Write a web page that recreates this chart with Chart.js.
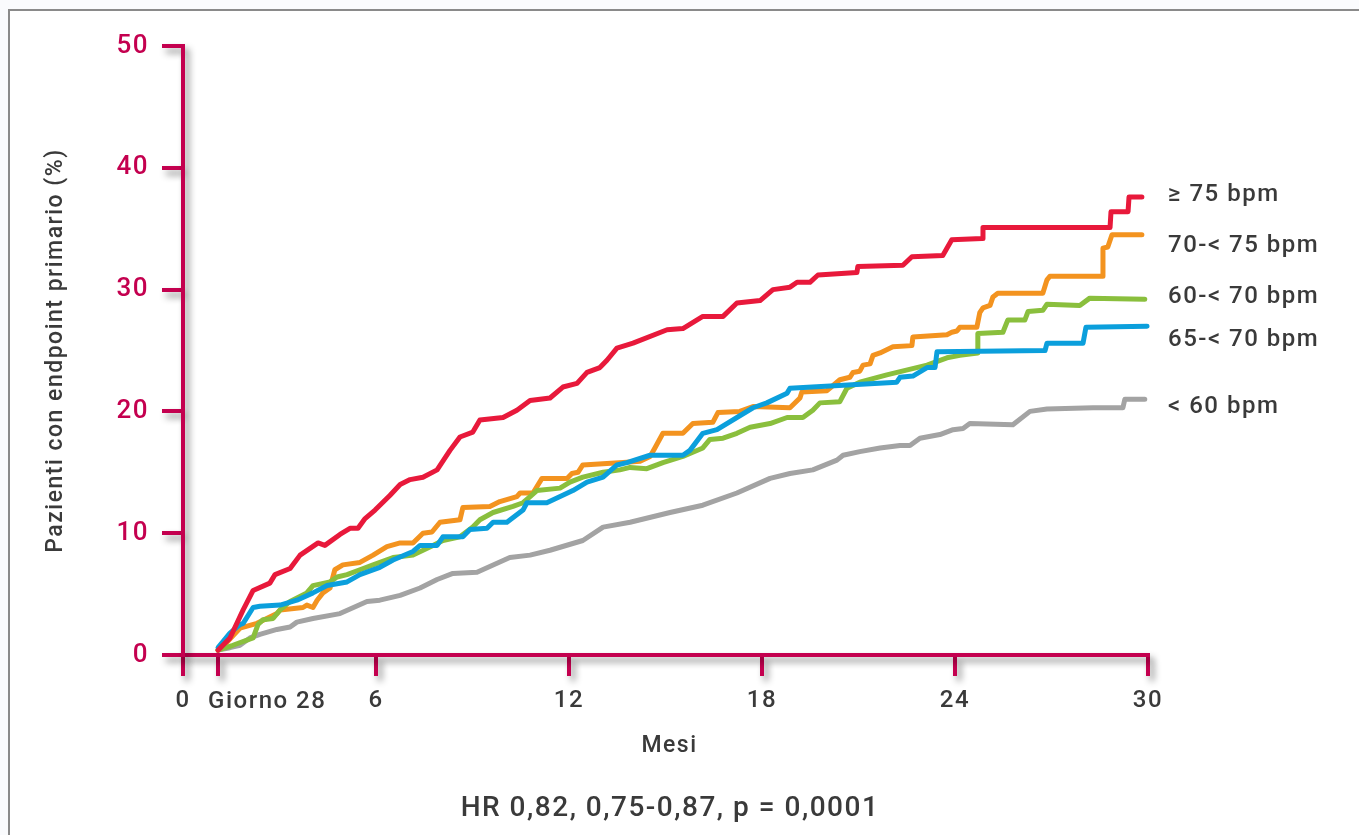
<!DOCTYPE html>
<html><head><meta charset="utf-8">
<script src="https://cdn.jsdelivr.net/npm/chart.js@4.4.1/dist/chart.umd.min.js"></script>
<style>
html,body{margin:0;padding:0;background:#fff;}
#wrap{position:relative;width:1359px;height:835px;overflow:hidden;background:#fafbfd;}
#frame{position:absolute;left:8px;top:9px;width:1400px;height:900px;border-left:2px solid #8a8a8a;border-top:2px solid #8a8a8a;background:#fff;}
canvas{position:absolute;left:0;top:0;}
</style></head><body>
<div id="wrap"><div id="frame"></div><canvas id="c" width="1359" height="835"></canvas></div>
<script>
// ---- Data (months, % patients with primary endpoint) ----
const seriesNames = ['≥ 75 bpm', '70-< 75 bpm', '60-< 70 bpm', '65-< 70 bpm', '< 60 bpm'];
const seriesColors = ['#e8193b', '#f3931f', '#8abf3d', '#0b9fdc', '#a3a3a3'];

const monthsHR75 = [1.09,1.46,1.87,2.18,2.70,2.86,3.33,3.64,4.20,4.41,4.88,5.19,5.44,5.66,5.97,6.43,6.75,7.06,7.46,7.90,8.30,8.61,9.01,9.23,9.95,10.38,10.79,11.41,11.81,12.25,12.56,12.96,13.18,13.49,13.99,15.05,15.54,16.16,16.79,17.22,17.94,18.34,18.87,19.09,19.49,19.74,20.95,20.98,22.38,22.66,23.62,23.90,24.84,24.87,28.82,28.85,29.38,29.41,29.81];
const valuesHR75 = [0.4,1.4,3.7,5.3,5.9,6.6,7.1,8.2,9.2,9.0,9.9,10.4,10.4,11.2,11.9,13.1,14.0,14.4,14.6,15.2,16.8,17.9,18.3,19.3,19.5,20.1,20.9,21.1,22.0,22.3,23.2,23.6,24.2,25.2,25.6,26.7,26.8,27.8,27.8,28.9,29.1,30.0,30.2,30.6,30.6,31.2,31.4,31.9,32.0,32.7,32.8,34.1,34.2,35.1,35.1,36.4,36.4,37.6,37.6];

const monthsHR70 = [1.09,1.24,1.77,2.30,2.92,3.02,3.73,3.85,4.04,4.17,4.35,4.57,4.72,4.97,5.50,5.91,6.34,6.75,7.15,7.46,7.74,7.99,8.61,8.70,9.54,9.85,10.38,10.48,10.88,11.16,11.94,12.09,12.28,12.43,13.68,14.21,14.52,14.67,14.92,15.54,15.85,16.47,16.63,17.31,17.72,18.87,19.18,19.24,20.02,20.42,20.73,20.83,21.04,21.14,21.36,21.45,21.67,22.07,22.66,22.69,23.75,23.90,24.06,24.15,24.68,24.77,24.87,25.09,25.18,25.33,26.73,26.86,26.95,28.57,28.60,28.75,28.88,29.81];
const valuesHR70 = [0.4,0.7,2.2,2.6,3.4,3.7,3.9,4.1,3.9,4.5,5.1,5.5,7.0,7.4,7.6,8.2,8.9,9.2,9.2,10.0,10.1,10.9,11.1,12.1,12.2,12.6,13.0,13.3,13.3,14.5,14.5,14.9,15.0,15.6,15.8,15.9,16.3,17.0,18.2,18.2,19.0,19.1,19.9,20.0,20.4,20.3,21.1,21.6,21.7,22.6,22.8,23.2,23.3,23.8,23.9,24.6,24.8,25.3,25.4,26.1,26.3,26.5,26.6,26.9,26.9,28.1,28.5,28.7,29.4,29.7,29.7,30.8,31.1,31.1,33.4,33.5,34.5,34.5];

const monthsHR60 = [1.09,1.55,2.18,2.33,2.49,2.80,3.02,3.33,3.85,4.04,4.57,4.79,5.10,5.50,5.91,6.53,7.15,7.77,8.08,8.61,9.01,9.23,9.64,10.26,10.57,10.79,11.00,11.72,12.03,12.43,13.06,13.58,13.90,14.42,14.92,15.54,16.16,16.38,16.79,17.22,17.63,18.25,18.78,19.27,19.58,19.80,20.42,20.64,21.04,21.88,23.13,23.75,24.15,24.71,24.71,25.49,25.64,26.17,26.27,26.73,26.86,27.88,28.19,29.90];
const valuesHR60 = [0.4,0.8,1.4,2.5,2.9,3.0,3.7,4.4,5.1,5.7,6.0,6.4,6.6,7.0,7.4,8.0,8.2,9.0,9.4,9.7,10.5,11.1,11.7,12.2,12.5,13.0,13.5,13.7,14.2,14.6,15.0,15.2,15.4,15.3,15.8,16.3,17.0,17.7,17.8,18.2,18.7,19.0,19.5,19.5,20.1,20.7,20.8,21.9,22.4,23.0,23.8,24.4,24.6,24.8,26.4,26.5,27.5,27.5,28.2,28.3,28.8,28.7,29.3,29.2];

const monthsHR65 = [1.09,1.46,1.77,1.87,2.18,2.39,3.02,3.54,4.04,4.48,5.10,5.50,6.12,6.53,7.15,7.37,7.90,8.08,8.70,8.92,9.45,9.64,10.07,10.57,10.69,11.31,12.12,12.56,13.06,13.49,13.80,14.52,15.54,15.76,16.16,16.60,17.72,18.15,18.78,18.87,22.19,22.29,22.69,23.13,23.38,23.44,26.80,26.86,27.98,28.07,29.97];
const valuesHR65 = [0.6,1.8,2.5,2.6,3.9,4.0,4.1,4.5,5.1,5.7,6.0,6.6,7.2,7.8,8.5,9.0,9.0,9.7,9.7,10.3,10.4,10.9,10.9,11.9,12.5,12.5,13.5,14.2,14.6,15.6,15.8,16.4,16.4,16.8,18.2,18.5,20.3,20.7,21.5,21.9,22.4,22.8,22.9,23.6,23.6,24.9,25.0,25.6,25.6,26.9,27.0];

const monthsHRlt60 = [1.09,1.46,1.77,2.08,2.39,2.92,3.33,3.54,4.04,4.88,5.72,6.12,6.75,7.37,7.90,8.39,9.14,10.16,10.79,11.41,12.43,13.06,13.90,15.14,16.16,17.22,18.25,18.87,19.58,20.33,20.52,21.04,21.67,22.29,22.60,22.91,23.53,23.94,24.25,24.46,25.80,26.33,26.86,28.29,29.22,29.28,29.90];
const valuesHRlt60 = [0.4,0.6,0.8,1.4,1.7,2.1,2.3,2.7,3.0,3.4,4.4,4.5,4.9,5.5,6.2,6.7,6.8,8.0,8.2,8.6,9.4,10.5,10.9,11.7,12.3,13.3,14.5,14.9,15.2,16.0,16.4,16.7,17.0,17.2,17.2,17.8,18.1,18.5,18.6,19.0,18.9,20.0,20.2,20.3,20.3,21.0,21.0];

const xTickValues = [0, 1.09, 6, 12, 18, 24, 30];
const xTickLabels = ['0', 'Giorno 28', '6', '12', '18', '24', '30'];
const yTickStep = 10;
const yMax = 50;
const labelValues = [37.8, 33.6, 29.4, 25.9, 20.4];   // where series names sit on the y scale

const xTitle = 'Mesi';
const yTitle = 'Pazienti con endpoint primario (%)';
const footer = 'HR 0,82, 0,75-0,87, p = 0,0001';

// ---- Chart ----
const CRIMSON = '#c4004f';
const TEXT = '#3a3a3a';
const FONT = 'Roboto, "DejaVu Sans", sans-serif';
const LS = '1.5px';

const allMonths = [monthsHR75, monthsHR70, monthsHR60, monthsHR65, monthsHRlt60];
const allValues = [valuesHR75, valuesHR70, valuesHR60, valuesHR65, valuesHRlt60];
const drawOrder = [1, 4, 3, 2, 5];

const datasets = seriesNames.map((name, i) => ({
  label: name,
  data: allMonths[i].map((m, j) => ({x: m, y: allValues[i][j]})),
  borderColor: seriesColors[i],
  borderWidth: 5,
  pointRadius: 0,
  tension: 0,
  fill: false,
  borderJoinStyle: 'round',
  borderCapStyle: 'round',
  order: drawOrder[i],
  clip: false
}));

const axisPlugin = {
  id: 'axisShadow',
  beforeDraw(chart) {
    const c = chart.ctx;
    c.letterSpacing = LS;
    c.save();
    c.shadowColor = 'rgba(0,0,0,0.45)';
    c.shadowBlur = 7;
    c.shadowOffsetX = 4;
    c.shadowOffsetY = 5;
  },
  beforeDatasetsDraw(chart) {
    chart.ctx.restore();
  },
  afterDraw(chart) {
    const c = chart.ctx, a = chart.chartArea, xs = chart.scales.x, ys = chart.scales.y;
    c.save();
    c.letterSpacing = LS;
    c.fillStyle = TEXT;
    c.textBaseline = 'middle';
    // Giorno 28 label
    c.font = '500 24px ' + FONT;
    c.textAlign = 'left';
    c.fillText(xTickLabels[1], xs.getPixelForValue(xTickValues[1]) - 10, 702);
    // x title
    c.textAlign = 'center';
    c.font = '500 23px ' + FONT;
    c.fillText(xTitle, (a.left + a.right) / 2 + 4, 746);
    // footer
    c.font = '500 28px ' + FONT;
    c.fillText(footer, 670, 809);
    // y title
    c.save();
    c.translate(56, (ys.getPixelForValue(0) + ys.getPixelForValue(yMax)) / 2);
    c.rotate(-Math.PI / 2);
    c.font = '500 23px ' + FONT;
    c.fillText(yTitle, 0, 0);
    c.restore();
    // series labels
    c.textAlign = 'left';
    c.font = '500 24px ' + FONT;
    seriesNames.forEach((n, i) => {
      c.fillText(n, a.right + 20, ys.getPixelForValue(labelValues[i]));
    });
    c.restore();
  }
};

new Chart(document.getElementById('c'), {
  type: 'line',
  data: {datasets},
  options: {
    responsive: false,
    animation: false,
    devicePixelRatio: 1,
    layout: {padding: {left: 0, top: 46, right: 211, bottom: 0}},
    plugins: {legend: {display: false}, tooltip: {enabled: false}, title: {display: false}},
    scales: {
      x: {
        type: 'linear', min: 0, max: 30,
        afterFit: s => { s.height = 180; },
        afterBuildTicks: s => { s.ticks = xTickValues.map(v => ({value: v})); },
        border: {display: true, color: CRIMSON, width: 4, z: 0},
        grid: {drawOnChartArea: false, drawTicks: true, tickLength: 21, color: CRIMSON, lineWidth: 4},
        ticks: {
          z: 1, color: TEXT, padding: 11, maxRotation: 0, autoSkip: false,
          font: {family: FONT, size: 24, weight: '500'},
          callback: (v) => { const k = xTickValues.indexOf(v); return k === 1 ? '' : (k >= 0 ? xTickLabels[k] : ''); }
        }
      },
      y: {
        type: 'linear', min: 0, max: yMax,
        afterFit: s => { s.width = 183; },
        border: {display: true, color: CRIMSON, width: 4, z: 0},
        grid: {drawOnChartArea: false, drawTicks: true, tickLength: 21, color: CRIMSON, lineWidth: 4},
        ticks: {
          z: 1, stepSize: yTickStep, color: CRIMSON, padding: 13,
          font: {family: FONT, size: 26, weight: '500'}
        }
      }
    }
  },
  plugins: [axisPlugin]
});
</script></body></html>
